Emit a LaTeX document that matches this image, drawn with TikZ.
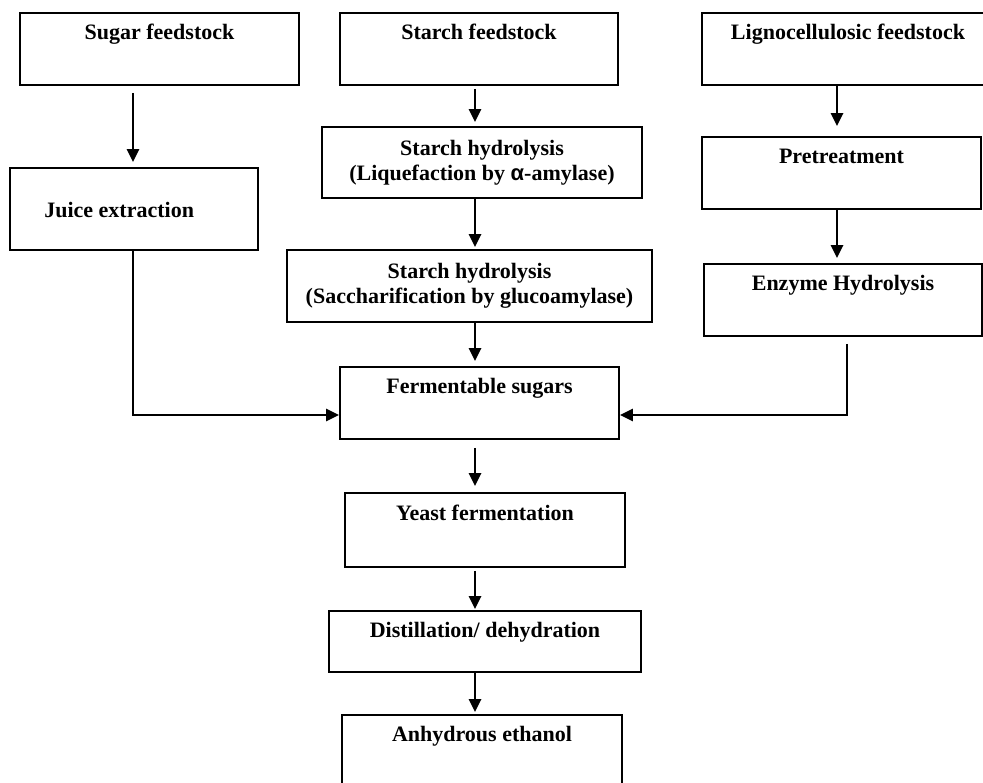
\documentclass[tikz,border=0pt]{standalone}
\usepackage{fontspec}
\setmainfont{Liberation Serif}
\newfontfamily\alphafont{Liberation Sans}
\usetikzlibrary{arrows.meta,positioning,calc}

\tikzset{
  blk/.style 2 args={draw, line width=1.8pt, inner sep=0pt, minimum width=#1pt, minimum height=#2pt,
    font=\bfseries\fontsize{22}{25.5}\selectfont, align=center},
  lbl/.style={font=\bfseries\fontsize{22}{26}\selectfont, inner sep=0pt, text height=16pt, text depth=5pt},
  arr/.style={line width=2.9pt, -{Triangle[width=12pt,length=13pt]}}
}

\begin{document}
\begin{tikzpicture}[x=1pt,y=-1pt]
\useasboundingbox (0,0) rectangle (983,783);
% columns of the arrows
\coordinate (lcol) at (133,0);
\coordinate (mcol) at (475,0);
\coordinate (rcol) at (837,0);
\coordinate (rdrop) at (847,0);
\coordinate (merge) at (0,415);

% feedstocks
\node[blk={279}{72}] (sugar) at (159.5,49) {};
\node[lbl, below=11pt of sugar.north] (sugart) {Sugar feedstock};
\node[blk={278}{72}] (starch) at (479,49) {};
\node[lbl, below=11pt of starch.north] (starcht) {Starch feedstock};
\node[blk={292}{72}] (ligno) at (848,49) {};
\node[lbl, below=11pt of ligno.north] (lignot) {Lignocellulosic feedstock};

% left branch
\node[blk={248}{82}] (juice) at (134,209) {};
\node[lbl, anchor=west] (juicet) at ($(juice.west)+(35,3)$) {Juice extraction};

% middle branch
\node[blk={320}{71}] (liq) at (482,162.5) {Starch hydrolysis\\(Liquefaction by {\alphafont α}-amylase)};
\node[blk={365}{72}] (sacch) at (469.5,286) {Starch hydrolysis\\(Saccharification by glucoamylase)};

% right branch
\node[blk={279}{72}] (pre) at (841.5,173) {};
\node[lbl, below=11pt of pre.north] (pret) {Pretreatment};
\node[blk={278}{72}] (enz) at (843,300) {};
\node[lbl, below=11pt of enz.north] (enzt) {Enzyme Hydrolysis};

% common line
\node[blk={279}{72}] (ferm) at (479.5,403) {};
\node[lbl, below=11pt of ferm.north] (fermt) {Fermentable sugars};
\node[blk={280}{74}] (yeast) at (485,530) {};
\node[lbl, below=12pt of yeast.north] (yeastt) {Yeast fermentation};
\node[blk={312}{61}] (dist) at (485,641.5) {};
\node[lbl, below=11pt of dist.north] (distt) {Distillation/ dehydration};
\node[blk={280}{85}] (anh) at (482,757.5) {};
\node[lbl, below=11pt of anh.north] (anht) {Anhydrous ethanol};

\draw[arr, shorten <=7pt, shorten >=5pt] (sugar.south -| lcol) -- (juice.north -| lcol);
\draw[arr, shorten <=3pt, shorten >=4pt] (starch.south -| mcol) -- (liq.north -| mcol);
\draw[arr, shorten >=2pt] (liq.south -| mcol) -- (sacch.north -| mcol);
\draw[arr, shorten >=5pt] (sacch.south -| mcol) -- (ferm.north -| mcol);
\draw[arr, shorten >=10pt] (ligno.south -| rcol) -- (pre.north -| rcol);
\draw[arr, shorten >=5pt] (pre.south -| rcol) -- (enz.north -| rcol);
\draw[arr] (juice.south -| lcol) |- (ferm.west |- merge);
\draw[arr, shorten <=7pt] (enz.south -| rdrop) |- (ferm.east |- merge);
\draw[arr, shorten <=8pt, shorten >=6pt] (ferm.south -| mcol) -- (yeast.north -| mcol);
\draw[arr, shorten <=3pt, shorten >=1pt] (yeast.south -| mcol) -- (dist.north -| mcol);
\draw[arr, shorten >=2pt] (dist.south -| mcol) -- (anh.north -| mcol);
\end{tikzpicture}
\end{document}
